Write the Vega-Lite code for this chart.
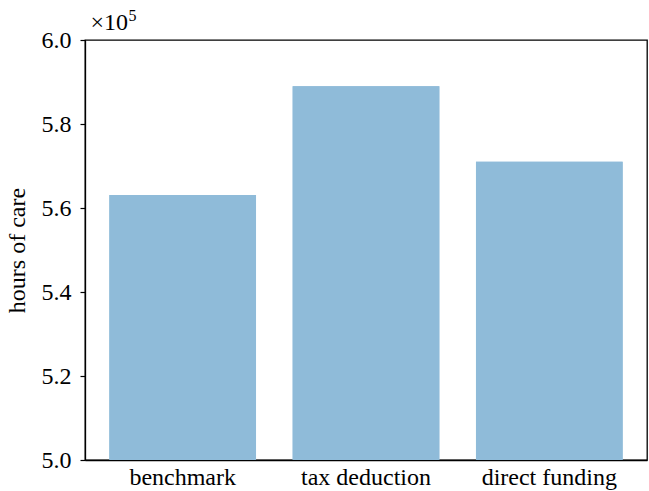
{
  "$schema": "https://vega.github.io/schema/vega-lite/v6.json",
  "width": 562,
  "height": 420,
  "autosize": {"type": "none"},
  "padding": {"left": 85, "top": 40, "right": 2, "bottom": 31},
  "background": "white",
  "config": {
    "font": "Liberation Serif",
    "view": {"stroke": "black", "strokeWidth": 1.3},
    "axis": {
      "domainColor": "black",
      "domainWidth": 1.3,
      "tickColor": "black",
      "tickWidth": 1.2,
      "labelColor": "black",
      "titleColor": "black",
      "labelFont": "Liberation Serif",
      "titleFont": "Liberation Serif",
      "labelFontSize": 24,
      "titleFontSize": 24,
      "titleFontWeight": "normal",
      "grid": false
    }
  },
  "data": {
    "values": [
      {"policy": "benchmark", "hours": 563100},
      {"policy": "tax deduction", "hours": 589000},
      {"policy": "direct funding", "hours": 571000}
    ]
  },
  "resolve": {"axis": {"y": "independent"}},
  "layer": [
    {
      "mark": {"type": "bar", "color": "#8fbbd9", "clip": true},
      "encoding": {
        "x": {
          "field": "policy",
          "type": "nominal",
          "sort": null,
          "title": "×10",
          "scale": {"paddingInner": 0.2, "paddingOuter": 0.133},
          "axis": {
            "labelAngle": 0,
            "ticks": false,
            "labelPadding": 5,
            "domain": true,
            "titleFontSize": 24,
            "titleX": 5,
            "titleY": -431,
            "titleAnchor": "start",
            "titleAlign": "left",
            "titleBaseline": "alphabetic",
            "titleAngle": 0
          }
        },
        "y": {
          "field": "hours",
          "type": "quantitative",
          "title": "hours of care",
          "scale": {"domain": [500000, 600000], "zero": false, "nice": false},
          "axis": {
            "values": [500000, 520000, 540000, 560000, 580000, 600000],
            "labelExpr": "format(datum.value / 100000, '.1f')",
            "tickSize": 5,
            "labelPadding": 9,
            "titlePadding": 12
          }
        }
      }
    },
    {
      "mark": {"type": "bar", "color": "#8fbbd9", "clip": true},
      "encoding": {
        "x": {
          "field": "policy",
          "type": "nominal",
          "sort": null
        },
        "y": {
          "field": "hours",
          "type": "quantitative",
          "title": "5",
          "axis": {
            "orient": "right",
            "labels": false,
            "ticks": false,
            "domain": false,
            "titleFontSize": 16,
            "titleX": -519,
            "titleY": -20,
            "titleAnchor": "start",
            "titleAlign": "left",
            "titleBaseline": "alphabetic",
            "titleAngle": 0
          }
        }
      }
    }
  ]
}
